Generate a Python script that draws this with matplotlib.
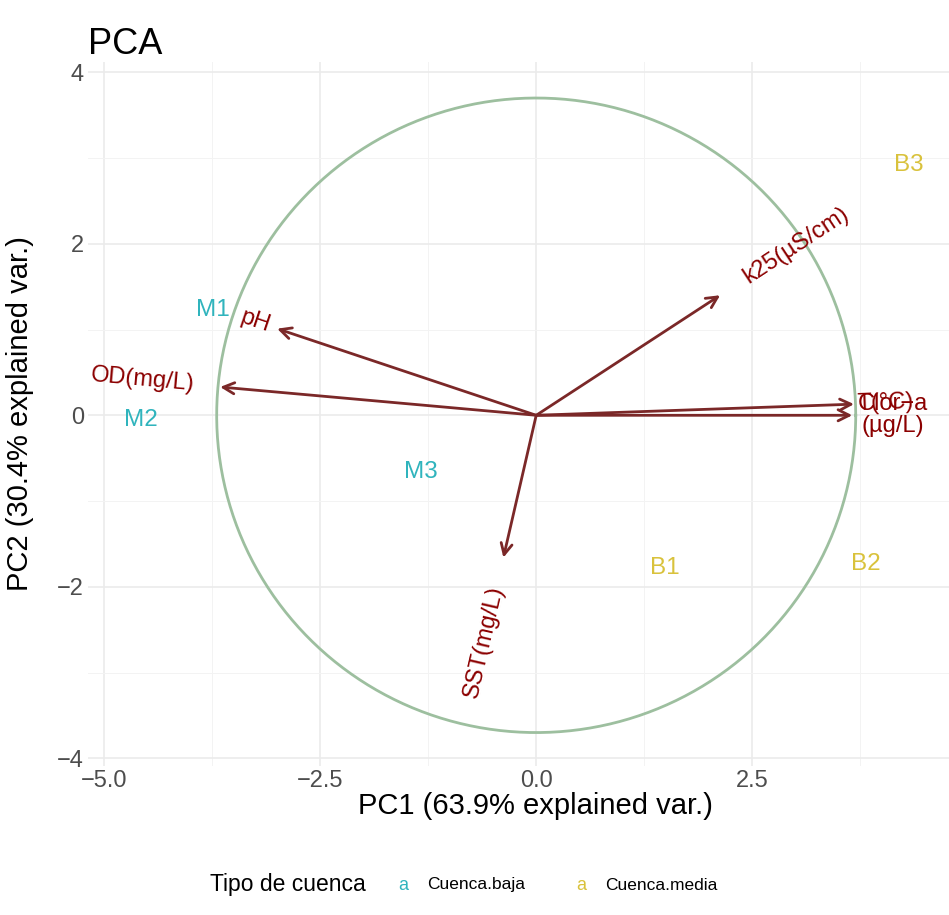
import matplotlib
matplotlib.use("Agg")
import matplotlib.pyplot as plt
import numpy as np

plt.rcParams['font.family'] = ['Liberation Sans', 'DejaVu Sans']

# sample scores on the first two components
sample_names = ["M1", "M2", "M3", "B1", "B2", "B3"]
sample_group = ["Cuenca.baja", "Cuenca.baja", "Cuenca.baja",
                "Cuenca.media", "Cuenca.media", "Cuenca.media"]
pc1_scores = [-3.74, -4.58, -1.34, 1.49, 3.82, 4.32]
pc2_scores = [1.23, -0.06, -0.66, -1.78, -1.74, 2.92]

# variable loadings (arrow tips)
var_names = ["pH", "OD(mg/L)", "k25(µS/cm)", "T(°C)", "Clor−a\n(µg/L)", "SST(mg/L)"]
load_pc1 = [-3.00, -3.66, 2.13, 3.68, 3.66, -0.38]
load_pc2 = [1.01, 0.33, 1.40, 0.13, 0.00, -1.66]
label_gap = [0.25, 0.25, 0.25, 0.06, 0.08, 0.25]

circle_radius = 3.70
groups = ["Cuenca.baja", "Cuenca.media"]
group_colors = {"Cuenca.baja": "#30b4bd", "Cuenca.media": "#d9c23c"}

fig = plt.figure(figsize=(9.49, 9.15), dpi=100)
W, H = 949, 915
ax = fig.add_axes([88 / W, (H - 766) / H, (949 - 88) / W, (766 - 62) / H])
ax.set_xlim(-5.19, 4.78)
ax.set_ylim(-4.09, 4.12)

# grid
for s in ax.spines.values():
    s.set_visible(False)
ax.set_xticks([-5.0, -2.5, 0.0, 2.5])
ax.set_xticklabels(["−5.0", "−2.5", "0.0", "2.5"])
ax.set_yticks([-4, -2, 0, 2, 4])
ax.set_yticklabels(["−4", "−2", "0", "2", "4"])
ax.set_xticks([-3.75, -1.25, 1.25, 3.75], minor=True)
ax.set_yticks([-3, -1, 1, 3], minor=True)
ax.grid(which="major", color="#ebebeb", linewidth=1.2)
ax.grid(which="minor", color="#f3f3f3", linewidth=0.7)
ax.tick_params(which="both", length=0, labelsize=17, labelcolor="#4d4d4d", pad=3)
ax.set_axisbelow(True)

# correlation circle
theta = np.linspace(0, 2 * np.pi, 400)
ax.plot(circle_radius * np.cos(theta), circle_radius * np.sin(theta),
        color="#9dbf9f", linewidth=2.0, zorder=2)

# sample labels
for name, g, x, y in zip(sample_names, sample_group, pc1_scores, pc2_scores):
    ax.text(x, y, name, color=group_colors[g], fontsize=17.5, ha="center", va="center",
            zorder=3, clip_on=True)

# loading arrows
for x, y in zip(load_pc1, load_pc2):
    ax.annotate("", xy=(x, y), xytext=(0, 0),
                arrowprops=dict(arrowstyle="->,head_length=0.8,head_width=0.4",
                                color="#7b2828", linewidth=2.0,
                                shrinkA=0, shrinkB=0), zorder=4)

# variable names, pushed out past the tip by a share of their width
renderer = fig.canvas.get_renderer()
for name, x, y, gap in zip(var_names, load_pc1, load_pc2, label_gap):
    ang = np.degrees(np.arctan(y / x))
    t = ax.text(x, y, name, fontsize=17, color="#8b0000", ha="center",
                va="center", multialignment="center")
    w = t.get_window_extent(renderer).width
    t.remove()
    sgn = 1 if x > 0 else -1
    off = sgn * (0.5 + gap) * w
    dx = off * np.cos(np.radians(ang))
    dy = off * np.sin(np.radians(ang))
    ax.annotate(name, xy=(x, y), xytext=(dx, dy), textcoords="offset pixels",
                fontsize=17, color="#8b0000", ha="center", va="center",
                rotation=ang, rotation_mode="anchor", multialignment="center",
                linespacing=1.0, zorder=5, annotation_clip=False)

# axis titles, centred on the full panel width
fig.text(535 / W, 1 - 806 / H, "PC1 (63.9% explained var.)", fontsize=21,
         ha="center", va="center")
fig.text(20 / W, 1 - 414 / H, "PC2 (30.4% explained var.)", fontsize=21,
         ha="center", va="center", rotation=90)
fig.text(88 / W, 1 - 45 / H, "PCA", fontsize=26, va="center", ha="left")

# legend row
fig.text(210 / W, 1 - 885 / H, "Tipo de cuenca", fontsize=16.5, va="center", ha="left")
key_x = [403, 581]
for g, kx in zip(groups, key_x):
    fig.text(kx / W, 1 - 885 / H, "a", fontsize=13, color=group_colors[g],
             va="center", ha="center")
    fig.text((kx + 24) / W, 1 - 885 / H, g, fontsize=12.5, va="center", ha="left")

fig.savefig("out.png", dpi=100)
